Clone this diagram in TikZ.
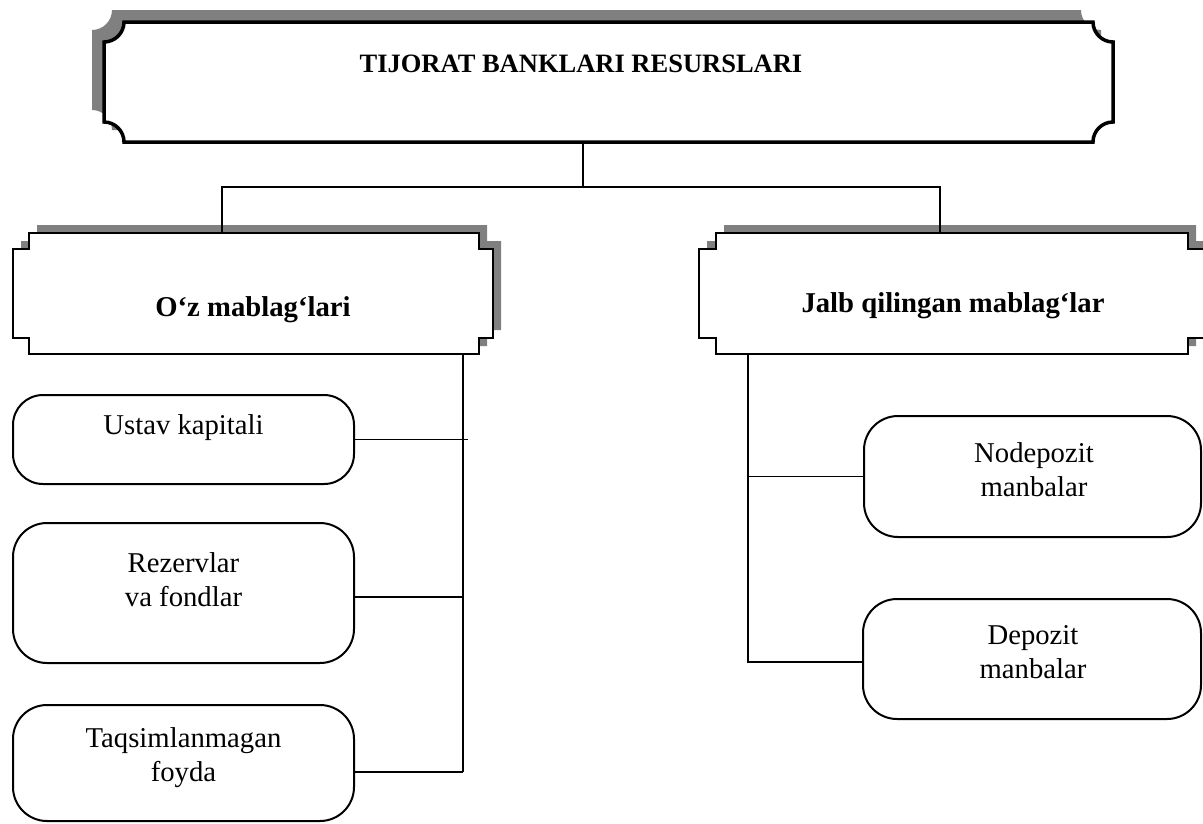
\documentclass[tikz,border=0pt]{standalone}
\usepackage{fontspec}
\setmainfont{Liberation Serif}
\usetikzlibrary{calc}
\definecolor{shadowgray}{HTML}{808080}
\tikzset{
  plaqueline/.style={draw=black, line width=3.5pt, fill=white},
  notchline/.style={draw=black, line width=2.5pt, fill=white},
  shadowfill/.style={fill=shadowgray, draw=none},
  rbox/.style={draw=black, line width=2pt, fill=white, rounded corners=#1, inner sep=0pt, outer sep=0pt},
  rbox/.default=34pt,
  anchorbox/.style={inner sep=0pt, outer sep=0pt},
  conn/.style={draw=black, line width=1.5pt},
  bodytext/.style={font=\fontsize{28.7}{34}\selectfont, align=center, inner sep=0pt},
  headtext/.style={font=\fontsize{28.7}{34}\selectfont\bfseries, inner sep=0pt},
  titletext/.style={font=\fontsize{26.5}{30}\selectfont\bfseries, inner sep=0pt},
}
\begin{document}
\begin{tikzpicture}[x=1pt,y=-1pt]
\useasboundingbox (0,0) rectangle (1203,823);
\clip (0,0) rectangle (1203,823);

% ---- top plaque ----
\fill[shadowfill, shift={(-12,-12)}]
  (124,22) -- (1093,22) .. controls (1093,33) and (1102,42) .. (1113,42)
  -- (1113,122) .. controls (1102,122) and (1093,131) .. (1093,142)
  -- (124,142) .. controls (124,131) and (115,122) .. (104,122)
  -- (104,42) .. controls (115,42) and (124,33) .. (124,22) -- cycle;
\filldraw[plaqueline]
  (124,22) -- (1093,22) .. controls (1093,33) and (1102,42) .. (1113,42)
  -- (1113,122) .. controls (1102,122) and (1093,131) .. (1093,142)
  -- (124,142) .. controls (124,131) and (115,122) .. (104,122)
  -- (104,42) .. controls (115,42) and (124,33) .. (124,22) -- cycle;
\node[anchorbox, minimum width=1009pt, minimum height=120pt] (top) at (608.5,82) {};
\node[titletext] (title) at (581,64) {TIJORAT BANKLARI RESURSLARI};

% ---- left notched box ----
\fill[shadowfill, shift={(8,-8)}]
  (29,233) -- (479,233) -- (479,249) -- (493,249) -- (493,338) -- (479,338)
  -- (479,354) -- (29,354) -- (29,338) -- (13,338) -- (13,249) -- (29,249) -- cycle;
\filldraw[notchline]
  (29,233) -- (479,233) -- (479,249) -- (493,249) -- (493,338) -- (479,338)
  -- (479,354) -- (29,354) -- (29,338) -- (13,338) -- (13,249) -- (29,249) -- cycle;
\node[anchorbox, minimum width=480pt, minimum height=121pt] (own) at (253,293.5) {};
\node[headtext] (ownt) at (253,310) {O‘z mablag‘lari};

% ---- right notched box ----
\fill[shadowfill, shift={(8,-8)}]
  (716,233) -- (1188,233) -- (1188,249) -- (1205,249) -- (1205,338) -- (1188,338)
  -- (1188,354) -- (716,354) -- (716,338) -- (699,338) -- (699,249) -- (716,249) -- cycle;
\filldraw[notchline]
  (716,233) -- (1188,233) -- (1188,249) -- (1205,249) -- (1205,338) -- (1188,338)
  -- (1188,354) -- (716,354) -- (716,338) -- (699,338) -- (699,249) -- (716,249) -- cycle;
\node[anchorbox, minimum width=506pt, minimum height=121pt] (jalb) at (952,293.5) {};
\node[headtext] (jalbt) at (953,306) {Jalb qilingan mablag‘lar};

% ---- rounded boxes ----
\node[rbox=30pt, minimum width=341pt, minimum height=89pt] (ustav) at (183.5,439.5) {};
\node[rbox, minimum width=341pt, minimum height=140pt] (rezerv) at (183.5,593) {};
\node[rbox, minimum width=341pt, minimum height=116pt] (taqsim) at (183.5,763) {};
\node[rbox, minimum width=337pt, minimum height=121pt] (nodep) at (1032.5,476.5) {};
\node[rbox, minimum width=338pt, minimum height=120pt] (depoz) at (1032,659) {};

\node[bodytext] (ustavt) at (183.5,428) {Ustav kapitali};
\node[bodytext] (rezervt) at (183.5,580) {Rezervlar\\va fondlar};
\node[bodytext] (taqsimt) at (183.5,758) {Taqsimlanmagan\\foyda};
\node[bodytext] (nodept) at (1034,470) {Nodepozit\\manbalar};
\node[bodytext] (depozt) at (1033,652) {Depozit\\manbalar};

% ---- connectors ----
\coordinate (hub) at (583,187);
\coordinate (ownin) at (222,233);
\coordinate (jalbin) at (940,233);
\draw[conn] (hub |- top.south) -- (hub);
\draw[conn] (ownin) |- (hub) -| (jalbin);

\coordinate (lbus1) at (463,354);
\coordinate (lbus2) at (463,772);
\coordinate (lmid) at (463,597);
\coordinate (ustick) at (468,439.5);
\draw[conn] (lbus1) -- (lbus2);
\draw[conn] (ustav.east) -- (ustick);
\draw[conn] (lmid) -- (lmid -| rezerv.east);
\draw[conn] (lbus2) -- (lbus2 -| taqsim.east);

\coordinate (rbus1) at (748,354);
\coordinate (rbus2) at (748,662);
\draw[conn] (rbus1) -- (rbus2) -- (rbus2 -| depoz.west);
\draw[conn] (nodep.west) -- (nodep.west -| rbus1);
\end{tikzpicture}
\end{document}
